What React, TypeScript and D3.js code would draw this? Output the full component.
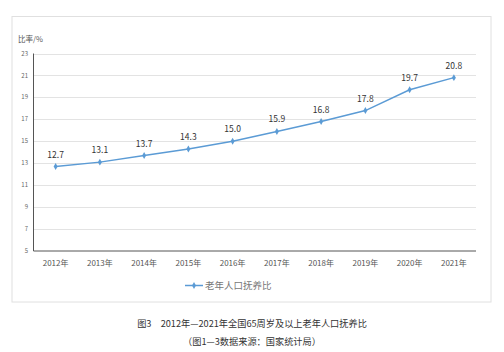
import React from "react";
import * as d3 from "d3";

const years = ["2012年", "2013年", "2014年", "2015年", "2016年", "2017年", "2018年", "2019年", "2020年", "2021年"];
const ratios = [12.7, 13.1, 13.7, 14.3, 15.0, 15.9, 16.8, 17.8, 19.7, 20.8];
const yTicks = [5, 7, 9, 11, 13, 15, 17, 19, 21, 23];
const seriesName = "老年人口抚养比";
const caption1 = "图3　2012年—2021年全国65周岁及以上老年人口抚养比";
const caption2 = "（图1—3数据来源：国家统计局）";
const yTitle = "比率/%";

const FONT = "'Noto Sans CJK SC', 'Noto Sans', sans-serif";

export default function App() {
  const W = 504, H = 352;
  const x0 = 33.5, x1 = 476;
  const x = d3.scaleBand<string>().domain(years).range([x0, x1]);
  const y = d3.scaleLinear().domain([5, 23]).range([251, 53.5]);
  const cx = (d: string) => (x(d) as number) + x.bandwidth() / 2;
  const line = d3.line<number>().x((_, i) => cx(years[i])).y((d) => y(d));
  const blue = "#5b9bd5";
  const diamond = d3.symbol().type(d3.symbolDiamond).size(14)() as string;

  return (
    <div style={{ position: "absolute", left: 0, top: 0 }}>
      <svg width={W} height={H} style={{ display: "block", background: "#fff" }}>
        <rect x={12} y={16.5} width={479} height={285.5} fill="#fff" stroke="#e0e0e0" strokeWidth={1} />
        <text x={18} y={42} fontSize={7.5} fill="#555" fontFamily={FONT}>{yTitle}</text>
        {yTicks.map((t) => (
          <g key={t}>
            {t !== 5 && (
              <line x1={x0} x2={x1} y1={Math.round(y(t)) + 0.5} y2={Math.round(y(t)) + 0.5} stroke="#e3e3e3" strokeWidth={1} />
            )}
            <text x={28} y={y(t)} dy="0.35em" textAnchor="end" fontSize={6} fill="#666" fontFamily={FONT}>{t}</text>
          </g>
        ))}
        <line x1={x0} x2={x0} y1={y(23)} y2={y(5)} stroke="#555" strokeWidth={1} />
        <line x1={x0} x2={x1} y1={y(5)} y2={y(5)} stroke="#555" strokeWidth={1} />
        {years.map((yr) => (
          <text key={yr} x={cx(yr)} y={266} textAnchor="middle" fontSize={8} fill="#555" fontFamily={FONT}>{yr}</text>
        ))}
        <path d={line(ratios) as string} fill="none" stroke={blue} strokeWidth={1.5} />
        {ratios.map((v, i) => (
          <g key={i}>
            <path d={diamond} transform={`translate(${cx(years[i])},${y(v)})`} fill={blue} />
            <text x={cx(years[i])} y={y(v) - 9} textAnchor="middle" fontSize={8.5} fill="#333" fontFamily={FONT}>{v.toFixed(1)}</text>
          </g>
        ))}
        <line x1={185} x2={203} y1={285.5} y2={285.5} stroke={blue} strokeWidth={1.5} />
        <path d={diamond} transform="translate(194,285.5)" fill={blue} />
        <text x={205} y={285.5} dy="0.35em" fontSize={9.5} fill="#777" fontFamily={FONT}>{seriesName}</text>
        <text x={252} y={327} textAnchor="middle" fontSize={9.2} fill="#333" fontFamily={FONT}>{caption1}</text>
        <text x={252} y={345} textAnchor="middle" fontSize={9.2} fill="#333" fontFamily={FONT}>{caption2}</text>
      </svg>
    </div>
  );
}
